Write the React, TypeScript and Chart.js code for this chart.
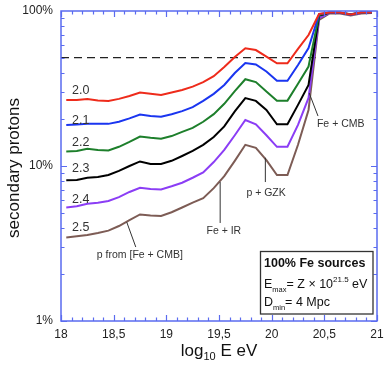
import React, { useEffect, useRef } from "react";
import { Chart, registerables } from "chart.js";

Chart.register(...registerables);

// log10(E/eV) bin centres
const E_BINS = [
  18.05, 18.15, 18.25, 18.35, 18.45, 18.55, 18.65, 18.75, 18.85, 18.95,
  19.05, 19.15, 19.25, 19.35, 19.45, 19.55, 19.65, 19.75, 19.85, 19.95,
  20.05, 20.15, 20.25, 20.35, 20.45, 20.55, 20.65, 20.75, 20.85, 20.95,
];

const SLOPE_LABELS = ["2.0", "2.1", "2.2", "2.3", "2.4", "2.5"];

// secondary proton fraction (%) for each injection slope
const P_20 = [26.7, 26.7, 27.1, 26.5, 26.3, 27.1, 28.3, 29.8, 29.2, 28.7, 29.8, 30.9, 32.5, 34.8, 38.0, 43.5, 50.5, 57.5, 56.0, 50.8, 46.0, 46.0, 56.9, 70.0, 95.6, 97.8, 97.8, 95.0, 97.8, 97.8];
const P_21 = [18.4, 18.5, 18.7, 18.7, 18.7, 19.3, 20.3, 21.5, 21.0, 20.8, 21.6, 22.6, 24.0, 26.3, 29.2, 33.3, 39.8, 46.2, 45.2, 40.7, 35.5, 35.5, 44.8, 57.7, 95.6, 97.8, 97.6, 95.0, 97.8, 97.8];
const P_22 = [12.4, 12.5, 12.9, 12.7, 12.6, 13.3, 14.3, 15.5, 15.2, 15.0, 15.6, 16.6, 17.6, 19.3, 21.6, 25.2, 30.4, 36.3, 34.8, 30.2, 26.4, 26.4, 33.9, 43.8, 94.2, 97.8, 97.5, 94.8, 97.6, 97.8];
const P_23 = [8.1, 8.12, 8.4, 8.5, 8.75, 9.3, 10.0, 10.7, 10.3, 10.3, 10.8, 11.6, 12.5, 13.7, 15.4, 18.0, 22.5, 27.4, 26.3, 23.0, 18.6, 18.6, 24.8, 33.3, 93.0, 97.8, 97.6, 95.2, 97.8, 97.8];
const P_24 = [5.4, 5.5, 5.7, 5.8, 5.95, 6.3, 6.8, 7.24, 7.1, 7.05, 7.4, 7.8, 8.4, 9.1, 10.6, 12.7, 15.8, 19.8, 18.6, 15.8, 13.3, 13.3, 18.4, 27.5, 90.0, 97.2, 97.0, 94.5, 97.2, 97.5];
const P_25 = [3.46, 3.52, 3.59, 3.7, 3.83, 4.1, 4.48, 4.87, 4.79, 4.76, 5.03, 5.4, 5.8, 6.2, 7.2, 8.6, 10.8, 13.7, 13.1, 10.9, 8.75, 8.75, 13.7, 23.0, 87.5, 96.5, 96.5, 93.5, 96.5, 97.0];

const SERIES_COLORS = ["#ee2b1b", "#1a35f0", "#1d7f2b", "#000000", "#8b3df5", "#7d5c55"];

// positions of the slope labels (log10 E, %)
const LABEL_E = 18.104;
const LABEL_P = [30.9, 19.5, 14.1, 9.57, 6.12, 4.03];

const X_TICKS = [18, 18.5, 19, 19.5, 20, 20.5, 21];
const Y_TICKS = [1, 10, 100];
const DASH_LEVEL = 50;

type Note = { text: string; from: [number, number]; to: [number, number]; at: [number, number] };
const NOTES: Note[] = [
  { text: "Fe + CMB", from: [20.356, 29.6], to: [20.44, 21.0], at: [20.43, 18.7] },
  { text: "p + GZK", from: [19.94, 11.3], to: [19.94, 7.88], at: [19.76, 6.7] },
  { text: "Fe + IR", from: [19.511, 7.88], to: [19.511, 4.29], at: [19.381, 3.81] },
  { text: "p from [Fe + CMB]", from: [18.624, 4.35], to: [18.71, 3.0], at: [18.34, 2.67] },
];

const FONT = '"Liberation Sans", Arial, Helvetica, sans-serif';
const AXIS_COLOR = "#5a6bf0";
const TEXT_COLOR = "#222";

const decor = {
  id: "decor",
  afterDraw(chart: any) {
    const { ctx, chartArea: a, scales } = chart;
    const xs = scales.x;
    const ys = scales.y;
    ctx.save();

    // frame
    ctx.strokeStyle = AXIS_COLOR;
    ctx.lineWidth = 1.5;
    ctx.strokeRect(a.left, a.top, a.right - a.left, a.bottom - a.top);

    // inward ticks
    ctx.lineWidth = 1.2;
    ctx.beginPath();
    for (let i = 0; i <= 30; i++) {
      const px = Math.round(xs.getPixelForValue(18 + i * 0.1)) + 0.5;
      const len = i % 5 === 0 ? 6 : 3.5;
      ctx.moveTo(px, a.bottom);
      ctx.lineTo(px, a.bottom - len);
      ctx.moveTo(px, a.top);
      ctx.lineTo(px, a.top + len);
    }
    for (const d of [1, 10]) {
      for (let m = 1; m <= 9; m++) {
        const py = Math.round(ys.getPixelForValue(m * d)) + 0.5;
        const len = m === 1 ? 6 : 3.5;
        ctx.moveTo(a.left, py);
        ctx.lineTo(a.left + len, py);
        ctx.moveTo(a.right, py);
        ctx.lineTo(a.right - len, py);
      }
    }
    ctx.stroke();

    // slope labels
    ctx.fillStyle = "#333";
    ctx.font = `12.5px ${FONT}`;
    ctx.textAlign = "left";
    ctx.textBaseline = "middle";
    SLOPE_LABELS.forEach((t, i) => {
      ctx.fillText(t, xs.getPixelForValue(LABEL_E), ys.getPixelForValue(LABEL_P[i]));
    });

    // annotations
    ctx.strokeStyle = "#333";
    ctx.lineWidth = 1;
    ctx.font = `10.5px ${FONT}`;
    for (const n of NOTES) {
      ctx.beginPath();
      ctx.moveTo(xs.getPixelForValue(n.from[0]), ys.getPixelForValue(n.from[1]));
      ctx.lineTo(xs.getPixelForValue(n.to[0]), ys.getPixelForValue(n.to[1]));
      ctx.stroke();
      ctx.fillText(n.text, xs.getPixelForValue(n.at[0]), ys.getPixelForValue(n.at[1]));
    }

    // info box
    const bx = a.right - 116.5;
    const by = a.bottom - 69.5;
    const bw = 112.5;
    const bh = 62.5;
    ctx.fillStyle = "#fff";
    ctx.fillRect(bx, by, bw, bh);
    ctx.strokeStyle = "#333";
    ctx.lineWidth = 1.3;
    ctx.strokeRect(bx, by, bw, bh);
    ctx.fillStyle = "#111";
    ctx.textBaseline = "alphabetic";
    ctx.font = `bold 12.5px ${FONT}`;
    ctx.fillText("100% Fe sources", bx + 3.5, by + 15);

    const runs = (parts: [string, number, number][], x: number, y: number) => {
      let cx = x;
      for (const [t, size, dy] of parts) {
        ctx.font = `${size}px ${FONT}`;
        ctx.fillText(t, cx, y + dy);
        cx += ctx.measureText(t).width;
      }
    };
    runs([["E", 12.5, 0], ["max", 7.5, 4], ["= Z × 10", 12.5, 0], ["21.5", 8, -6], [" eV", 12.5, 0]], bx + 3.5, by + 36);
    runs([["D", 12.5, 0], ["min", 7.5, 4], ["= 4 Mpc", 12.5, 0]], bx + 3.5, by + 54);

    // axis titles
    ctx.fillStyle = "#111";
    ctx.save();
    ctx.translate(14, (a.top + a.bottom) / 2 + 2);
    ctx.rotate(-Math.PI / 2);
    ctx.textAlign = "center";
    ctx.textBaseline = "middle";
    ctx.font = `17px ${FONT}`;
    ctx.fillText("secondary protons", 0, 0);
    ctx.restore();

    ctx.textAlign = "left";
    ctx.textBaseline = "alphabetic";
    const xParts: [string, number, number][] = [["log", 17, 0], ["10", 11, 4], [" E eV", 17, 0]];
    let total = 0;
    for (const [t, s] of xParts) {
      ctx.font = `${s}px ${FONT}`;
      total += ctx.measureText(t).width;
    }
    runs(xParts, (a.left + a.right) / 2 - total / 2, 356);

    ctx.restore();
  },
};

export default function App() {
  const ref = useRef<HTMLCanvasElement>(null);
  useEffect(() => {
    const canvas = ref.current!;
    const seriesData = [P_20, P_21, P_22, P_23, P_24, P_25];
    const datasets: any[] = seriesData.map((vals, i) => ({
      label: SLOPE_LABELS[i],
      data: E_BINS.map((e, j) => ({ x: e, y: vals[j] })),
      borderColor: SERIES_COLORS[i],
      borderWidth: 2,
      pointRadius: 0,
      tension: 0,
      fill: false,
    }));
    datasets.push({
      label: "50%",
      data: [
        { x: 18, y: DASH_LEVEL },
        { x: 21, y: DASH_LEVEL },
      ],
      borderColor: "#222",
      borderWidth: 1.2,
      borderDash: [8, 5],
      pointRadius: 0,
    });
    const chart = new Chart(canvas, {
      type: "line",
      data: { datasets },
      options: {
        responsive: false,
        animation: false,
        layout: { padding: { top: 11, right: 13, left: 0, bottom: 0 } },
        plugins: {
          legend: { display: false },
          tooltip: { enabled: false },
          title: { display: false },
        },
        scales: {
          x: {
            type: "linear",
            min: 18,
            max: 21,
            grid: { display: false, drawTicks: false },
            border: { display: false },
            afterBuildTicks: (s: any) => {
              s.ticks = X_TICKS.map((v) => ({ value: v }));
            },
            afterFit: (s: any) => {
              s.height = 51;
              s.paddingLeft = 0;
              s.paddingRight = 0;
              s.paddingTop = 0;
              s.paddingBottom = 0;
            },
            ticks: {
              padding: 6,
              color: TEXT_COLOR,
              font: { family: FONT, size: 12 },
              maxRotation: 0,
              autoSkip: false,
              callback: (v: any) => String(v).replace(".", ","),
            },
          },
          y: {
            type: "logarithmic",
            min: 1,
            max: 100,
            grid: { display: false, drawTicks: false },
            border: { display: false },
            afterBuildTicks: (s: any) => {
              s.ticks = Y_TICKS.map((v) => ({ value: v }));
            },
            afterFit: (s: any) => {
              s.width = 61;
              s.paddingLeft = 0;
              s.paddingRight = 0;
              s.paddingTop = 0;
              s.paddingBottom = 0;
            },
            ticks: {
              padding: 8,
              color: TEXT_COLOR,
              font: { family: FONT, size: 12 },
              autoSkip: false,
              callback: (v: any) => `${v}%`,
            },
          },
        },
      } as any,
      plugins: [decor],
    });
    return () => chart.destroy();
  }, []);

  return (
    <div style={{ position: "fixed", left: 0, top: 0, width: 390, height: 372, background: "#fff" }}>
      <canvas ref={ref} width={390} height={372} style={{ display: "block" }} />
    </div>
  );
}
